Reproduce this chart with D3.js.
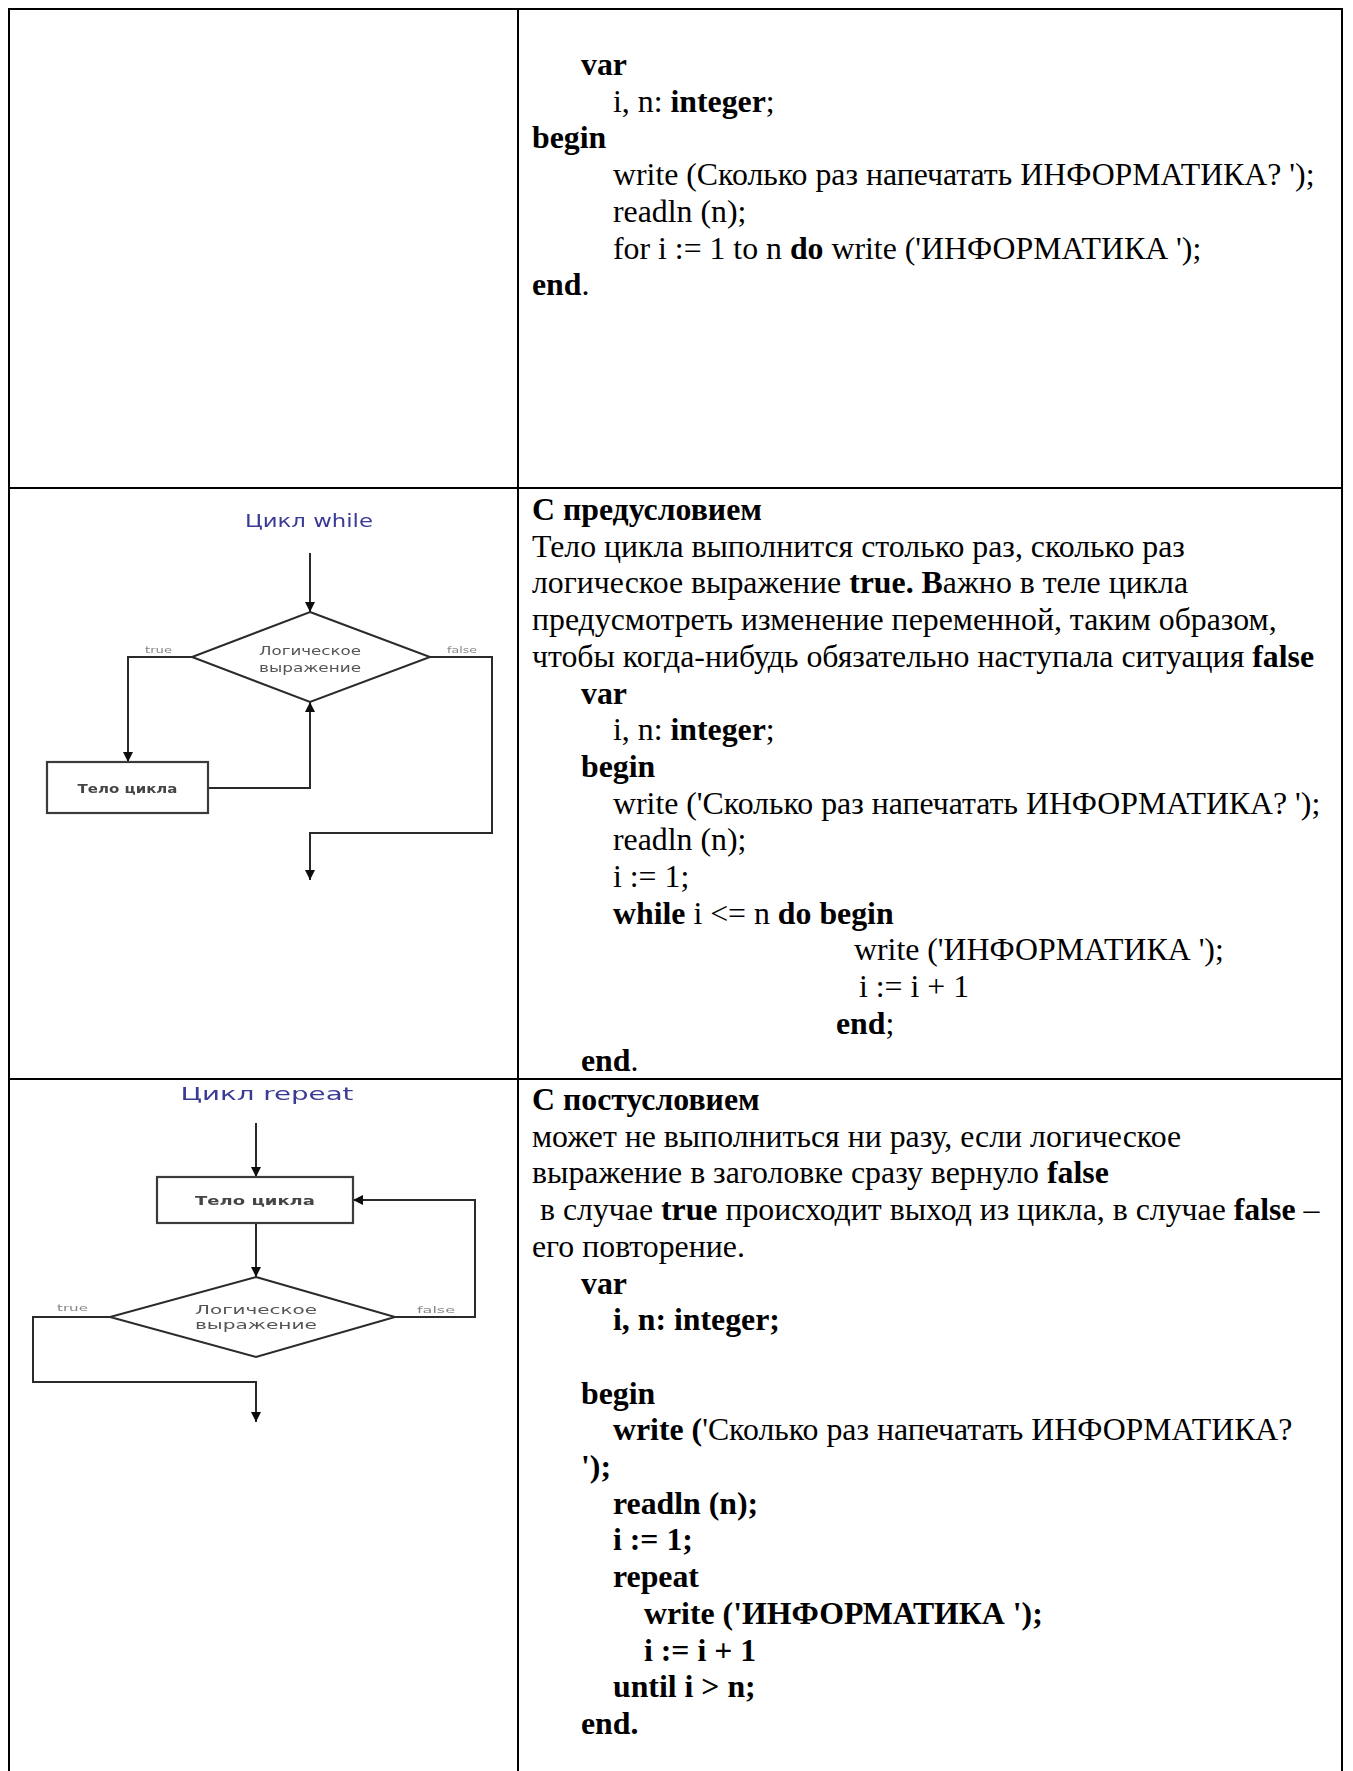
<!DOCTYPE html>
<html><head><meta charset="utf-8">
<script src="https://cdn.jsdelivr.net/npm/d3@7"></script>
<style>html,body{margin:0;padding:0;background:#fff;} svg{display:block}</style>
</head><body><svg id="c" width="1353" height="1771"></svg>
<script>
// ---------- text content ----------
const row1Lines = [
  {ind:1, seg:[["var",1]]},
  {ind:2, seg:[["i, n: ",0],["integer",1],[";",0]]},
  {ind:0, seg:[["begin",1]]},
  {ind:2, seg:[["write (Сколько раз напечатать ИНФОРМАТИКА? ');",0]]},
  {ind:2, seg:[["readln (n);",0]]},
  {ind:2, seg:[["for i := 1 to n ",0],["do",1],[" write ('ИНФОРМАТИКА ');",0]]},
  {ind:0, seg:[["end",1],[".",0]]}
];
const row2Lines = [
  {ind:0, seg:[["С предусловием",1]]},
  {ind:0, seg:[["Тело цикла выполнится столько раз, сколько раз",0]]},
  {ind:0, seg:[["логическое выражение ",0],["true. В",1],["ажно в теле цикла",0]]},
  {ind:0, seg:[["предусмотреть изменение переменной, таким образом,",0]]},
  {ind:0, seg:[["чтобы когда-нибудь обязательно наступала ситуация ",0],["false",1]]},
  {ind:1, seg:[["var",1]]},
  {ind:2, seg:[["i, n: ",0],["integer",1],[";",0]]},
  {ind:1, seg:[["begin",1]]},
  {ind:2, seg:[["write ('Сколько раз напечатать ИНФОРМАТИКА? ');",0]]},
  {ind:2, seg:[["readln (n);",0]]},
  {ind:2, seg:[["i := 1;",0]]},
  {ind:2, seg:[["while",1],[" i <= n ",0],["do begin",1]]},
  {ind:4, seg:[["write ('ИНФОРМАТИКА ');",0]]},
  {ind:5, seg:[["i := i + 1",0]]},
  {ind:3, seg:[["end",1],[";",0]]},
  {ind:1, seg:[["end",1],[".",0]]}
];
const row3Lines = [
  {ind:0, seg:[["С постусловием",1]]},
  {ind:0, seg:[["может не выполниться ни разу, если логическое",0]]},
  {ind:0, seg:[["выражение в заголовке сразу вернуло ",0],["false",1]]},
  {ind:0, seg:[[" в случае ",0],["true",1],[" происходит выход из цикла, в случае ",0],["false",1],[" –",0]]},
  {ind:0, seg:[["его повторение.",0]]},
  {ind:1, seg:[["var",1]]},
  {ind:2, seg:[["i, n: integer;",1]]},
  null,
  {ind:1, seg:[["begin",1]]},
  {ind:2, seg:[["write (",1],["'Сколько раз напечатать ИНФОРМАТИКА?",0]]},
  {ind:1, seg:[["');",1]]},
  {ind:2, seg:[["readln (n);",1]]},
  {ind:2, seg:[["i := 1;",1]]},
  {ind:2, seg:[["repeat",1]]},
  {ind:6, seg:[["write ('ИНФОРМАТИКА ');",1]]},
  {ind:6, seg:[["i := i + 1",1]]},
  {ind:2, seg:[["until i > n;",1]]},
  {ind:1, seg:[["end.",1]]}
];

// flowchart labels
const whileLabels = {title:"Цикл while", cond:["Логическое","выражение"], body:"Тело цикла", yes:"true", no:"false"};
const repeatLabels = {title:"Цикл repeat", cond:["Логическое","выражение"], body:"Тело цикла", yes:"true", no:"false"};

// ---------- layout ----------
const svg = d3.select("#c");
const W = 1353, H = 1771;
const tbl = {left:9, right:1342, col:518, rows:[9, 488, 1079]};
const indentX = d3.scaleOrdinal().domain([0,1,2,3,4,5,6]).range([532, 581, 613, 836, 854, 859, 644]);
const FS = 31.8, LH = 36.7;

// table lines
const g = svg.append("g").attr("stroke","#000").attr("stroke-width",2);
tbl.rows.forEach(y => g.append("line").attr("x1",tbl.left-1).attr("x2",tbl.right+1).attr("y1",y).attr("y2",y));
[tbl.left, tbl.col, tbl.right].forEach(x => g.append("line").attr("x1",x).attr("x2",x).attr("y1",tbl.rows[0]-1).attr("y2",H));

function drawLines(lines, y0) {
  const yScale = d3.scaleLinear().domain([0,1]).range([y0, y0+LH]);
  const t = svg.append("g").attr("font-family","'Liberation Serif','Times New Roman',serif")
    .attr("font-size",FS).attr("fill","#000");
  lines.forEach((ln, i) => {
    if (!ln) return;
    const tx = t.append("text").attr("x", indentX(ln.ind)).attr("y", yScale(i))
      .attr("xml:space","preserve").style("white-space","pre");
    ln.seg.forEach(s => tx.append("tspan").attr("font-weight", s[1] ? "bold" : "normal").text(s[0]));
  });
}
drawLines(row1Lines, 75);
drawLines(row2Lines, 520);
drawLines(row3Lines, 1110);

// ---------- flowcharts ----------
const defs = svg.append("defs");
defs.append("marker").attr("id","ah").attr("viewBox","0 0 10 10").attr("refX",10).attr("refY",5)
  .attr("markerWidth",11).attr("markerHeight",10).attr("markerUnits","userSpaceOnUse").attr("orient","auto")
  .append("path").attr("d","M0,0 L10,5 L0,10 Z").attr("fill","#111");
defs.append("filter").attr("id","blur").append("feGaussianBlur").attr("stdDeviation",0.5);

const SANS = "'DejaVu Sans',Verdana,sans-serif";
const line = d3.line();
function flow(L, geo) {
  const fg = svg.append("g").attr("filter","url(#blur)");
  // title
  fg.append("text").attr("x",geo.title[0]).attr("y",geo.title[1]).attr("text-anchor","middle")
    .attr("font-family",SANS).attr("font-size",17).attr("fill","#3a3a96")
    .attr("textLength",geo.title[2]).attr("lengthAdjust","spacingAndGlyphs").text(L.title);
  // paths
  geo.paths.forEach(p => fg.append("path").attr("d", line(p.pts)).attr("fill","none")
    .attr("stroke","#2a2a2a").attr("stroke-width",2).attr("marker-end", p.arrow ? "url(#ah)" : null));
  // diamond
  const d = geo.diamond;
  fg.append("path").attr("d", line([[d.cx,d.top],[d.right,d.cy],[d.cx,d.bottom],[d.left,d.cy]]) + "Z")
    .attr("fill","#fff").attr("stroke","#2a2a2a").attr("stroke-width",2);
  L.cond.forEach((c,i) => fg.append("text").attr("x",d.cx).attr("y",geo.condY[i]).attr("text-anchor","middle")
    .attr("font-family",SANS).attr("font-size",13).attr("fill","#555")
    .attr("textLength",geo.condW).attr("lengthAdjust","spacingAndGlyphs").text(c));
  // box
  const b = geo.box;
  fg.append("rect").attr("x",b.x).attr("y",b.y).attr("width",b.w).attr("height",b.h)
    .attr("fill","#fff").attr("stroke","#3a3a3a").attr("stroke-width",2.2);
  fg.append("text").attr("x",b.x+b.w/2).attr("y",b.y+b.h/2+5).attr("text-anchor","middle")
    .attr("font-family",SANS).attr("font-size",13).attr("font-weight","bold").attr("fill","#444")
    .attr("textLength",geo.bodyW).attr("lengthAdjust","spacingAndGlyphs").text(L.body);
  // yes / no
  [[L.yes, geo.yes],[L.no, geo.no]].forEach(([t,p]) => fg.append("text").attr("x",p[0]).attr("y",p[1])
    .attr("font-family",SANS).attr("font-size",9).attr("fill","#888")
    .attr("textLength",p[2]).attr("lengthAdjust","spacingAndGlyphs").text(t));
}

flow(whileLabels, {
  title:[309, 527, 128],
  diamond:{cx:310, top:612, bottom:702, left:192, right:430, cy:657},
  condY:[655, 672], condW:102,
  box:{x:47, y:762, w:161, h:51}, bodyW:100,
  yes:[145, 653, 27], no:[447, 653, 30],
  paths:[
    {pts:[[310,553],[310,612]], arrow:true},
    {pts:[[192,657],[128,657],[128,762]], arrow:true},
    {pts:[[208,788],[310,788],[310,702]], arrow:true},
    {pts:[[430,657],[492,657],[492,833],[310,833],[310,880]], arrow:true}
  ]
});
flow(repeatLabels, {
  title:[267, 1100, 173],
  diamond:{cx:256, top:1277, bottom:1357, left:110, right:395, cy:1317},
  condY:[1314, 1329], condW:122,
  box:{x:157, y:1177, w:196, h:46}, bodyW:120,
  yes:[57, 1311, 31], no:[417, 1313, 38],
  paths:[
    {pts:[[256,1123],[256,1177]], arrow:true},
    {pts:[[256,1223],[256,1277]], arrow:true},
    {pts:[[395,1317],[475,1317],[475,1200],[353,1200]], arrow:true},
    {pts:[[110,1317],[33,1317],[33,1382],[256,1382],[256,1422]], arrow:true}
  ]
});
</script></body></html>
